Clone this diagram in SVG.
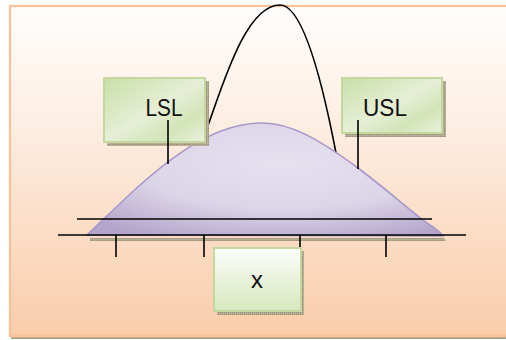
<svg xmlns="http://www.w3.org/2000/svg" width="506" height="340" viewBox="0 0 506 340">
  <defs>
    <linearGradient id="bg" x1="0" y1="0" x2="0" y2="1">
      <stop offset="0" stop-color="#fffefd"/>
      <stop offset="0.35" stop-color="#fdeee3"/>
      <stop offset="1" stop-color="#f9cdaa"/>
    </linearGradient>
    <linearGradient id="boxfill" x1="0" y1="0" x2="1" y2="1">
      <stop offset="0" stop-color="#c9dea8"/>
      <stop offset="0.5" stop-color="#e6efd6"/>
      <stop offset="0.75" stop-color="#d3e4b8"/>
      <stop offset="1" stop-color="#eaf2de"/>
    </linearGradient>
    <linearGradient id="xfill" x1="0" y1="0" x2="0" y2="1">
      <stop offset="0" stop-color="#fdfefb"/>
      <stop offset="1" stop-color="#d6e7bd"/>
    </linearGradient>
    <radialGradient id="bellfill" cx="0.55" cy="0.35" r="0.75">
      <stop offset="0" stop-color="#e6e1ef"/>
      <stop offset="0.55" stop-color="#dcd5e8"/>
      <stop offset="1" stop-color="#b3a4ca"/>
    </radialGradient>
    <pattern id="shade" width="2" height="2" patternUnits="userSpaceOnUse">
      <rect width="2" height="2" fill="#b7ae95"/>
      <rect width="1" height="1" fill="#948c75"/>
    </pattern>
  </defs>
  <style>
    .box { stroke: #c2d89f; stroke-width: 2; }
    .shadow { fill: url(#shade); }
    .lbl { font-family: "Liberation Sans", Arial, sans-serif; font-size: 24px; fill: #111; text-anchor: middle; }
    .ink { stroke: #000; stroke-width: 1.6; fill: none; }
  </style>

  <!-- background frame -->
  <rect x="11" y="8" width="500" height="331" class="shadow"/>
  <rect x="10" y="6" width="500" height="330" fill="url(#bg)" stroke="#fbc196" stroke-width="2.2"/>

  <!-- spread curve (narrow process) -->
  <path class="ink" d="M206,131 C222,88 245,5 280,5 C303,5 322,80 336,153"/>

  <!-- bell-shaped distribution -->
  <g id="distribution">
    <path d="M90,238 L444,238 L446,241 L90,241 Z" class="shadow"/>
    <path d="M87,235 C135,190 195,124 260,123 C290,122 320,140 358,168 C390,192 415,215 430,225 C436,229 440,232 443,236 Z" fill="url(#bellfill)" stroke="#a898c9" stroke-width="1.6"/>
  </g>

  <g id="connectors">
    <line class="ink" x1="77" y1="219" x2="432" y2="219"/>
    <line class="ink" x1="58" y1="235" x2="466" y2="235"/>
    <line class="ink" x1="116" y1="235" x2="116" y2="257"/>
    <line class="ink" x1="204" y1="235" x2="204" y2="257"/>
    <line class="ink" x1="300" y1="235" x2="300" y2="257"/>
    <line class="ink" x1="386" y1="235" x2="386" y2="257"/>
  </g>

  <g id="lsl">
    <rect x="107" y="81" width="102" height="65" class="shadow"/>
    <rect x="104" y="78" width="101" height="64" fill="url(#boxfill)" class="box"/>
    <text x="164" y="116" class="lbl" textLength="37" lengthAdjust="spacingAndGlyphs">LSL</text>
    <line class="ink" x1="168" y1="120" x2="168" y2="164"/>
  </g>

  <g id="usl">
    <rect x="345" y="81" width="101" height="56" class="shadow"/>
    <rect x="342" y="78" width="100" height="55" fill="url(#boxfill)" class="box"/>
    <text x="385" y="116" class="lbl" textLength="44" lengthAdjust="spacingAndGlyphs">USL</text>
    <line class="ink" x1="358" y1="120" x2="358" y2="169"/>
  </g>

  <g id="x">
    <rect x="217" y="251" width="87" height="64" class="shadow"/>
    <rect x="214" y="248" width="87" height="63" fill="url(#xfill)" class="box"/>
    <text x="257" y="288" class="lbl">x</text>
  </g>
</svg>
